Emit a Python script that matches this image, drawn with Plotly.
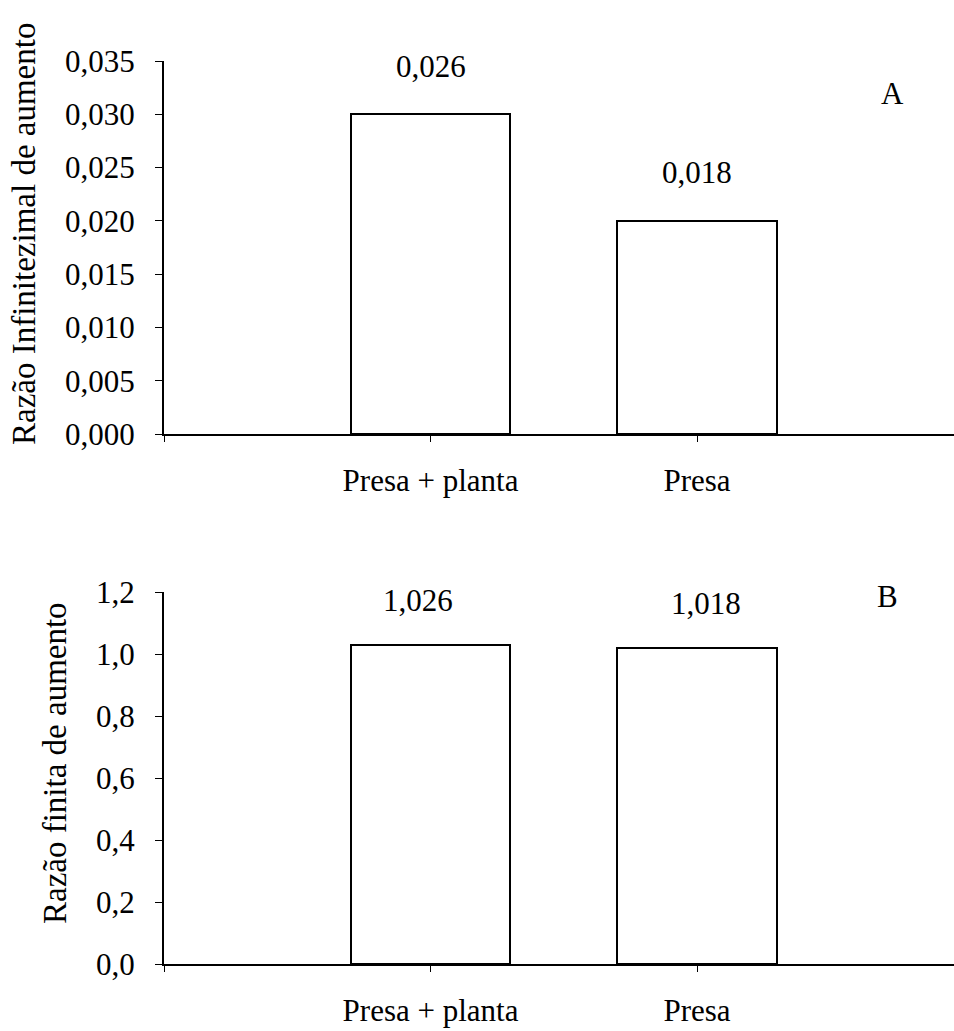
import plotly.graph_objects as go

categories = ["Presa + planta", "Presa"]
cat_pos = [1, 2]
values_a = [0.030, 0.020]
labels_a = ["0,026", "0,018"]
values_b = [1.03, 1.02]
labels_b = ["1,026", "1,018"]
ytitle_a = "Razão Infinitezimal de aumento"
ytitle_b = "Razão finita de aumento"

FONT = "Liberation Serif"
FS = 31
FS_CAT = 31
FS_TITLE = 33

fig = go.Figure()
bar_style = dict(marker=dict(color="white", line=dict(color="black", width=2)), width=0.6, showlegend=False, hoverinfo="skip")
fig.add_trace(go.Bar(x=cat_pos, y=values_a, xaxis="x", yaxis="y", **bar_style))
fig.add_trace(go.Bar(x=cat_pos, y=values_b, xaxis="x2", yaxis="y2", **bar_style))

W, H = 954, 1031
x0 = 164 / W

common_x = dict(range=[0, 2.964], tickvals=[0] + cat_pos, ticktext=[""] + categories,
                showline=True, linecolor="black", linewidth=2, ticks="outside", ticklen=6,
                tickcolor="black", tickwidth=1, showgrid=False, zeroline=False, automargin=False,
                tickfont=dict(family=FONT, size=FS_CAT, color="black"), ticklabelstandoff=12,
                fixedrange=True)
common_y = dict(showline=True, linecolor="black", linewidth=2, ticks="outside", ticklen=7,
                tickcolor="black", tickwidth=1, showgrid=False, zeroline=False, automargin=False,
                tickfont=dict(family=FONT, size=FS, color="black"), ticklabelstandoff=14,
                fixedrange=True)

fig.update_layout(
    template="none",
    width=W, height=H, autosize=False, margin=dict(l=0, r=0, t=0, b=0, pad=0),
    paper_bgcolor="white", plot_bgcolor="white", separators=", ",
    bargap=0,
    xaxis=dict(domain=[x0, 1], anchor="y", **common_x),
    yaxis=dict(domain=[(H - 434) / H, (H - 61) / H], anchor="x", range=[0, 0.035], dtick=0.005,
               tickformat=".3f", **common_y),
    xaxis2=dict(domain=[x0, 1], anchor="y2", **common_x),
    yaxis2=dict(domain=[(H - 964) / H, (H - 592) / H], anchor="x2", range=[0, 1.2], dtick=0.2,
                tickformat=".1f", **common_y),
)

label_xshift_b = [-13, 9]
annots = []
for xp, v, t in zip(cat_pos, values_a, labels_a):
    annots.append(dict(x=xp, y=v, xref="x", yref="y", text=t, showarrow=False, yshift=48,
                       font=dict(family=FONT, size=FS, color="black")))
for xp, v, t, xs in zip(cat_pos, values_b, labels_b, label_xshift_b):
    annots.append(dict(x=xp, y=v, xref="x2", yref="y2", text=t, showarrow=False, yshift=44, xshift=xs,
                       font=dict(family=FONT, size=FS, color="black")))
annots.append(dict(x=892 / W, y=(H - 94) / H, xref="paper", yref="paper", text="A", showarrow=False,
                   xanchor="center", yanchor="middle", font=dict(family=FONT, size=FS, color="black")))
annots.append(dict(x=887 / W, y=(H - 596) / H, xref="paper", yref="paper", text="B", showarrow=False,
                   xanchor="center", yanchor="middle", font=dict(family=FONT, size=FS, color="black")))
annots.append(dict(x=24 / W, y=(H - 234) / H, xref="paper", yref="paper", text=ytitle_a, textangle=-90,
                   showarrow=False, xanchor="center", yanchor="middle",
                   font=dict(family=FONT, size=FS_TITLE, color="black")))
annots.append(dict(x=55 / W, y=(H - 763) / H, xref="paper", yref="paper", text=ytitle_b, textangle=-90,
                   showarrow=False, xanchor="center", yanchor="middle",
                   font=dict(family=FONT, size=FS_TITLE, color="black")))
fig.update_layout(annotations=annots)

fig.write_html("out.html")
